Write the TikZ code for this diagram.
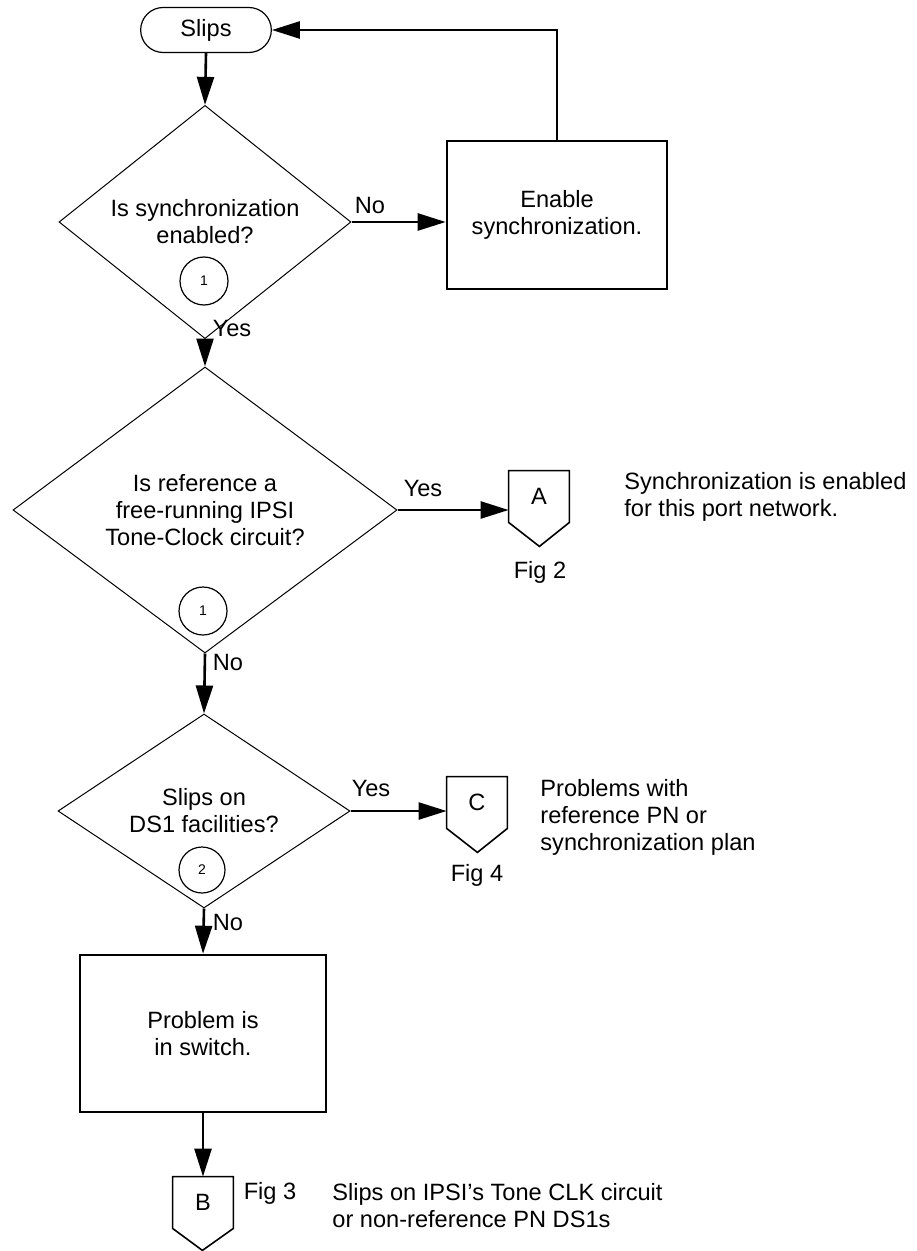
\documentclass[tikz,border=0pt]{standalone}
\usepackage{fontspec}
\setmainfont{Liberation Sans}
\usetikzlibrary{arrows.meta,shapes.geometric,shapes.misc}

\begin{document}
\begin{tikzpicture}[x=0.5pt, y=-0.5pt, >={Triangle[length=14pt,width=8.5pt]},
    font=\fontsize{11.8pt}{13.5pt}\selectfont,
    flow/.style={->, line width=1.3pt},
    terminal/.style={rounded rectangle, draw, line width=0.6pt, minimum width=72pt, minimum height=22.5pt},
    decision/.style={diamond, draw, line width=0.5pt, align=center, inner sep=0pt},
    action/.style={rectangle, draw, line width=1.3pt, align=center},
    numcircle/.style={circle, draw, line width=0.6pt, minimum size=24pt, inner sep=0pt, font=\fontsize{7pt}{8pt}\selectfont},
    conn/.style={minimum width=30pt, minimum height=25.5pt, inner sep=0pt},
    connline/.style={line width=0.8pt},
    note/.style={anchor=west, align=left, inner sep=0pt}]
    \useasboundingbox (0,0) rectangle (916,1251);

    % Depart
    \node[terminal] (start) at (206,30) {Slips};

    % Question 1
    \node[decision, minimum width=146pt, minimum height=96pt] (q1) at (205,222) {Is synchronization\\enabled?};
    \node[numcircle] (c1) at (204,281) {1};
    \node[action, minimum width=110pt, minimum height=74pt] (enable) at (557,215) {Enable\\synchronization.};
    \draw[flow] (start.south) -- (q1.north);
    \draw[flow] (q1.east) -- (q1.east -| enable.west);
    \node (no1) at (370,205) {No};
    \draw[flow] (enable.north) |- (start.east);

    % Question 2
    \node[decision, minimum width=192pt, minimum height=143pt] (q2) at (205,510) {Is reference a\\free-running IPSI\\Tone-Clock circuit?};
    \node[numcircle] (c2) at (203,611) {1};
    \draw[flow] (q1.south) -- (q2.north);
    \node (yes1) at (232,328) {Yes};

    % Renvoi A
    \node[conn] (conA) at (539,496.5) {A};
    \draw[connline] (conA.north west) -- (conA.north east) -- (conA.south east) -- ++(-30,24) -- (conA.south west) -- cycle;
    \draw[flow] (q2.east) -- (q2.east -| conA.west);
    \node (yes2) at (423,488) {Yes};
    \node (fig2) at (540,572) {Fig 2};
    \node[note] (noteA) at (624,497) {Synchronization is enabled\\for this port network.};

    % Question 3
    \node[decision, minimum width=146pt, minimum height=97pt] (q3) at (204,811) {Slips on\\DS1 facilities?};
    \node[numcircle, minimum size=23pt] (c3) at (202,870) {2};
    \draw[flow] (q2.south) -- (q3.north);
    \node (no2) at (228,662) {No};

    % Renvoi C
    \node[conn] (conC) at (477,802.5) {C};
    \draw[connline] (conC.north west) -- (conC.north east) -- (conC.south east) -- ++(-30,24) -- (conC.south west) -- cycle;
    \draw[flow] (q3.east) -- (q3.east -| conC.west);
    \node (yes3) at (371,788) {Yes};
    \node (fig4) at (477,875) {Fig 4};
    \node[note] (noteC) at (540,817) {Problems with\\reference PN or\\synchronization plan};

    % Probleme dans le switch
    \node[action, minimum width=123pt, minimum height=78.5pt] (switch) at (203,1033.5) {Problem is\\in switch.};
    \draw[flow] (q3.south) -- (switch.north);
    \node (no3) at (228,922) {No};

    % Renvoi B
    \node[conn] (conB) at (203,1202.5) {B};
    \draw[connline] (conB.north west) -- (conB.north east) -- (conB.south east) -- ++(-31,22) -- (conB.south west) -- cycle;
    \draw[flow] (switch.south) -- (conB.north);
    \node (fig3) at (270,1193) {Fig 3};
    \node[note] (noteB) at (332,1206) {Slips on IPSI’s Tone CLK circuit\\or non-reference PN DS1s};
\end{tikzpicture}
\end{document}
